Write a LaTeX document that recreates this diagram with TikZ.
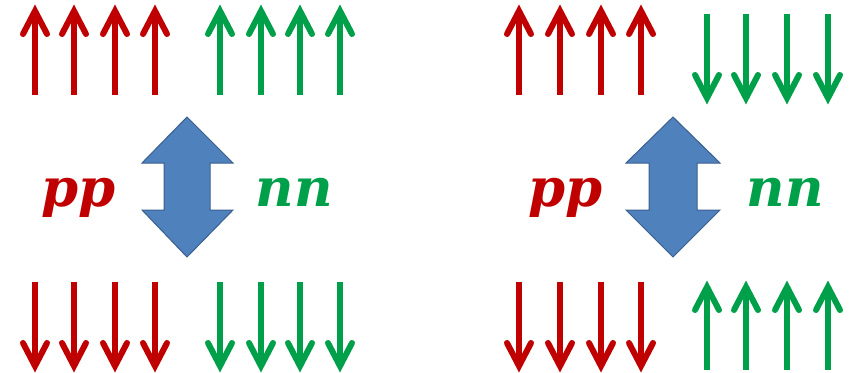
\documentclass[tikz,border=0pt]{standalone}
\usepackage{fontspec}
\setmainfont{DejaVu Serif}
\definecolor{cred}{HTML}{C00000}
\definecolor{cgreen}{HTML}{00A04A}
\definecolor{bfill}{HTML}{4F81BD}
\definecolor{bline}{HTML}{3A5F8E}
\tikzset{
  spin/.style={line width=6pt},
  barb/.style={line width=6pt, line cap=round, line join=miter, miter limit=10},
  blockarrow/.style={fill=bfill, draw=bline, line width=1pt, line join=miter},
  label/.style={font=\fontsize{53}{53}\selectfont\bfseries\itshape, anchor=base, inner sep=0pt}
}
\newcommand{\spinup}[4]{% x, tip, bottom, colour
  \draw[spin,#4] (#1,#3) -- (#1,#2+6);
  \draw[barb,#4] (#1-12,#2+27) -- (#1,#2+4) -- (#1+12,#2+27);
}
\newcommand{\spindown}[4]{% x, top, tip, colour
  \draw[spin,#4] (#1,#2) -- (#1,#3-6);
  \draw[barb,#4] (#1-12,#3-27) -- (#1,#3-4) -- (#1+12,#3-27);
}
\begin{document}
\begin{tikzpicture}[x=1pt,y=-1pt]
\useasboundingbox (0,0) rectangle (850,372);
% left panel
\foreach \x in {35,74,115,155} {\spinup{\x}{7}{95}{cred}}
\foreach \x in {220,261,300,340} {\spinup{\x}{7}{95}{cgreen}}
\foreach \x in {35,74,115,155} {\spindown{\x}{282}{370}{cred}}
\foreach \x in {220,261,300,340} {\spindown{\x}{282}{370}{cgreen}}
\draw[blockarrow] (187,117) -- (233,163) -- (210,163) -- (210,210) -- (233,210) -- (187,257) -- (142,210) -- (164,210) -- (164,163) -- (142,163) -- cycle;
\node[label,text=cred] (ppL) at (79,206) {pp};
\node[label,text=cgreen] (nnL) at (294,206) {nn};
% right panel
\foreach \x in {519,560,601,641} {\spinup{\x}{7}{95}{cred}}
\foreach \x in {707,746,787,828} {\spindown{\x}{14}{102}{cgreen}}
\foreach \x in {519,560,601,641} {\spindown{\x}{282}{370}{cred}}
\foreach \x in {707,746,787,828} {\spinup{\x}{283}{370}{cgreen}}
\draw[blockarrow] (673,117) -- (720,163) -- (697,163) -- (697,210) -- (720,210) -- (673,257) -- (626,210) -- (649,210) -- (649,163) -- (626,163) -- cycle;
\node[label,text=cred] (ppR) at (566,206) {pp};
\node[label,text=cgreen] (nnR) at (785,206) {nn};
\end{tikzpicture}
\end{document}
